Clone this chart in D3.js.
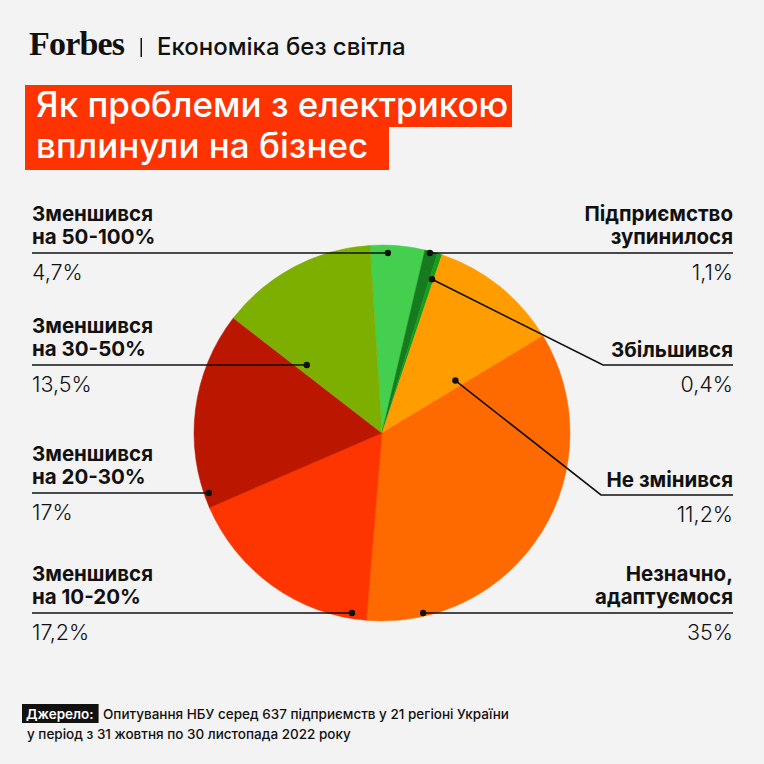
<!DOCTYPE html>
<html><head><meta charset="utf-8">
<script src="https://cdn.jsdelivr.net/npm/d3@7"></script>
<style>
html,body{margin:0;padding:0;background:#f3f3f3;}
svg{display:block;font-family:Inter,"Noto Sans",Roboto,sans-serif;}
</style></head>
<body>
<svg id="c" width="764" height="764"></svg>
<script>
// ---- data ----
const categories = ["Зменшився на 50-100%","Підприємство зупинилося","Збільшився","Не змінився","Незначно, адаптуємося","Зменшився на 10-20%","Зменшився на 20-30%","Зменшився на 30-50%"];
const labelLines = [["Зменшився","на 50-100%"],["Підприємство","зупинилося"],["Збільшився"],["Не змінився"],["Незначно,","адаптуємося"],["Зменшився","на 10-20%"],["Зменшився","на 20-30%"],["Зменшився","на 30-50%"]];
const values = [4.7, 1.1, 0.4, 11.2, 35, 17.2, 17, 13.5];
const valueLabels = ["4,7%","1,1%","0,4%","11,2%","35%","17,2%","17%","13,5%"];
const colors = ["#45cf4e","#177a1f","#10a01c","#ff9d00","#ff6a00","#ff3500","#bb1700","#7caf00"];

// ---- layout ----
const W = 764, cx = 382, cy = 433, R = 188;
const startDeg = -3.7;
const leaders = [
  {side:"L", y:253, f:0.33},
  {side:"R", y:253, f:0.43},
  {side:"R", y:365, f:0.6, rr:0.86, elbowX:603},
  {side:"R", y:495, f:0.89, rr:0.48, elbowX:601},
  {side:"R", y:613, f:0.86},
  {side:"L", y:613, f:0.076},
  {side:"L", y:493, f:0.07},
  {side:"L", y:365, f:0.09}
];
const leftX = 32, rightX = 733;

const svg = d3.select("#c");
svg.append("rect").attr("width",W).attr("height",W).attr("fill","#f3f3f3");

// header
svg.append("text").attr("x",29).attr("y",55)
  .attr("font-family","'Liberation Serif','DejaVu Serif',serif").attr("font-weight","bold")
  .attr("font-size",34).attr("letter-spacing",-0.8).attr("fill","#111").text("Forbes");
svg.append("rect").attr("x",140.5).attr("y",38).attr("width",1.5).attr("height",19).attr("fill","#111");
svg.append("text").attr("x",157).attr("y",55).attr("font-size",24).attr("font-weight",550)
  .attr("fill","#111").text("Економіка без світла");

// title
const titleLines = ["Як проблеми з електрикою","вплинули на бізнес"];
const tb = [[85,127,487],[127,170,364]];
titleLines.forEach((t,i)=>{
  svg.append("rect").attr("x",25).attr("y",tb[i][0]).attr("height",tb[i][1]-tb[i][0]).attr("width",tb[i][2]).attr("fill","#ff3300");
  svg.append("text").attr("x",36).attr("y",[117,158][i]).attr("font-size",35).attr("font-weight",500)
    .attr("fill","#fff").text(t);
});

// pie
const pie = d3.pie().sort(null).value(d=>d)
  .startAngle(startDeg*Math.PI/180).endAngle(startDeg*Math.PI/180 + 2*Math.PI);
const arcs = pie(values);
const arc = d3.arc().innerRadius(0).outerRadius(R);
const g = svg.append("g").attr("transform",`translate(${cx},${cy})`);
g.selectAll("path").data(arcs).join("path")
  .attr("d",arc).attr("fill",(d,i)=>colors[i]).attr("stroke",(d,i)=>colors[i]).attr("stroke-width",0.5);

// leaders and labels
arcs.forEach((a,i)=>{
  const L = leaders[i];
  const th = a.startAngle + L.f*(a.endAngle-a.startAngle);
  let dx, dy;
  if (L.rr) { dx = cx + R*L.rr*Math.sin(th); dy = cy - R*L.rr*Math.cos(th); }
  else { dy = L.y; dx = cx + (cy - L.y)*Math.tan(th); }
  let pts;
  if (L.side==="L") pts = [[leftX,L.y],[dx,dy]];
  else if (L.elbowX) pts = [[dx,dy],[L.elbowX,L.y],[rightX,L.y]];
  else pts = [[dx,dy],[rightX,L.y]];
  svg.append("path").attr("d",d3.line()(pts)).attr("fill","none").attr("stroke","#111").attr("stroke-width",1.6);
  svg.append("circle").attr("cx",dx).attr("cy",dy).attr("r",3.2).attr("fill","#111");
  const tx = L.side==="L" ? leftX : rightX;
  const anchor = L.side==="L" ? "start" : "end";
  const lines = labelLines[i];
  lines.forEach((ln,k)=>{
    const base = lines.length===2 ? L.y - 32 + k*23 : L.y - 8;
    svg.append("text").attr("x",tx).attr("y",base).attr("text-anchor",anchor)
      .attr("font-size",20.5).attr("font-weight",700).attr("fill","#111").text(ln);
  });
  svg.append("text").attr("x",tx).attr("y",L.y+27).attr("text-anchor",anchor)
    .attr("font-size",21.5).attr("font-weight",300).attr("fill","#111").text(valueLabels[i]);
});

// footer
const srcLabel = "Джерело:";
const srcLines = ["Опитування НБУ серед 637 підприємств у 21 регіоні України","у період з 31 жовтня по 30 листопада 2022 року"];
const sr = svg.append("rect").attr("x",22).attr("y",704).attr("height",19).attr("fill","#111");
const st = svg.append("text").attr("x",26).attr("y",719).attr("font-size",13.5).attr("font-weight",600).attr("fill","#fff").text(srcLabel);
sr.attr("width", st.node().getComputedTextLength()+9);
svg.append("text").attr("x",103).attr("y",719).attr("font-size",13.5).attr("font-weight",500).attr("fill","#111").text(srcLines[0]);
svg.append("text").attr("x",27).attr("y",739).attr("font-size",13.5).attr("font-weight",500).attr("fill","#111").text(srcLines[1]);
</script>
</body></html>
